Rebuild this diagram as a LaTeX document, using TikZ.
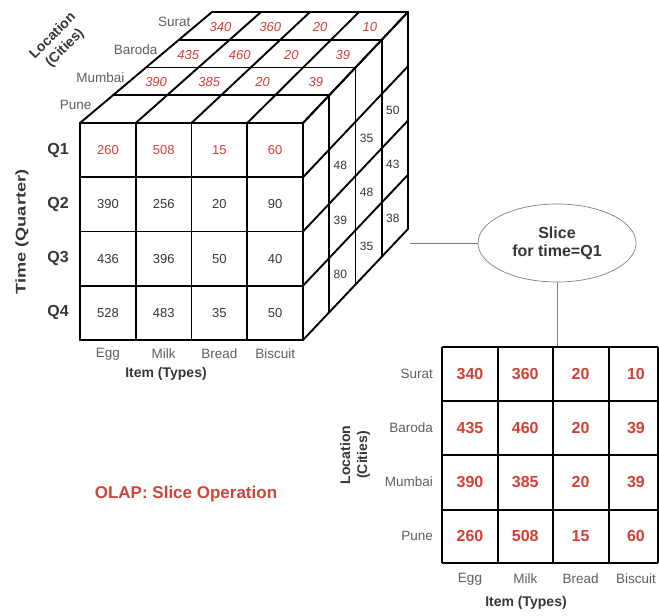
\documentclass[tikz,border=0pt]{standalone}
\usepackage{fontspec}
\setmainfont{Liberation Sans}
\usetikzlibrary{shapes.geometric}
\definecolor{valred}{RGB}{214,62,52}
\definecolor{titlered}{RGB}{206,70,55}
\definecolor{lblgray}{RGB}{95,95,95}
\definecolor{numgray}{RGB}{55,55,55}
\tikzset{
  cube/.style={line width=1.9pt, line cap=round, line join=round},
  slicegrid/.style={line width=2.2pt, line join=miter},
  conn/.style={draw=gray, line width=0.7pt},
  frontval/.style={font=\fontsize{13}{13}\selectfont, text=numgray, inner sep=0pt},
  frontred/.style={font=\fontsize{13}{13}\selectfont, text=valred, inner sep=0pt},
  topval/.style={font=\fontsize{13}{13}\selectfont\itshape, text=valred, inner sep=0pt},
  sideval/.style={font=\fontsize{12}{12}\selectfont, text=numgray, inner sep=0pt},
  qlbl/.style={font=\fontsize{16}{16}\selectfont\bfseries, text=numgray, inner sep=0pt},
  catlbl/.style={font=\fontsize{13.5}{13.5}\selectfont, text=lblgray, inner sep=0pt},
  axlbl/.style={font=\fontsize{14}{17}\selectfont\bfseries, text=numgray, inner sep=0pt, align=center},
  sliceval/.style={font=\fontsize{16}{16}\selectfont\bfseries, text=valred, inner sep=0pt},
}
\begin{document}
\begin{tikzpicture}[x=1pt,y=-1pt]
\useasboundingbox (0,0) rectangle (659,616);
\fill[white] (0,0) rectangle (659,616);

% ---------- cube ----------
% depth planes
\foreach \k in {0,...,4} {
  \pgfmathsetmacro\L{80+33*\k}
  \pgfmathsetmacro\R{303+26.25*\k}
  \pgfmathsetmacro\T{123-27.75*\k}
  \pgfmathsetmacro\B{\T+217}
  \draw[cube] (\L,\T) -- (\R,\T) -- (\R,\B);
}
% top-face column edges
\foreach \i in {0,...,4} {
  \draw[cube] ({80+\i*55.75},123) -- ({212+\i*49},12);
}
% right-face row edges
\foreach \j in {0,...,4} {
  \draw[cube] (303,{123+\j*54.25}) -- (408,{12+\j*54.25});
}
% front face grid
\foreach \i in {0,...,4} {
  \draw[cube] ({80+\i*55.75},123) -- ({80+\i*55.75},340);
}
\foreach \j in {0,...,4} {
  \draw[cube] (80,{123+\j*54.25}) -- (303,{123+\j*54.25});
}

% front values
\foreach \v [count=\c from 0] in {260,508,15,60} {
  \node[frontred] (f-0-\c) at ({107.9+\c*55.75},150.1) {\v};
}
\foreach \row [count=\r from 1] in {{390,256,20,90},{436,396,50,40},{528,483,35,50}} {
  \foreach \v [count=\c from 0] in \row {
    \node[frontval] (f-\r-\c) at ({107.9+\c*55.75},{150.1+\r*54.25}) {\v};
  }
}

% top values (Surat kk=3.5, Baroda 2.5, Mumbai 1.5)
\foreach \kk/\row in {3.5/{340,360,20,10},2.5/{435,460,20,39},1.5/{390,385,20,39}} {
  \foreach \v [count=\c from 0] in \row {
    \pgfmathsetmacro\L{80+33*\kk}
    \pgfmathsetmacro\W{223-6.75*\kk}
    \pgfmathsetmacro\T{123-27.75*\kk}
    \node[topval] (t-\kk-\c) at ({\L+(\c+0.5)*\W/4},{\T+1}) {\v};
  }
}

% side values
\foreach \kk/\row in {1.5/{48,39,80},2.5/{35,48,35},3.5/{50,43,38}} {
  \foreach \v [count=\r from 1] in \row {
    \pgfmathsetmacro\R{303+26.25*\kk}
    \pgfmathsetmacro\T{123-27.75*\kk}
    \node[sideval] (s-\kk-\r) at ({\R-2},{\T+(\r+0.5)*54.25+3}) {\v};
  }
}

% city labels on top
\foreach \kk/\name in {3.5/Surat,2.5/Baroda,1.5/Mumbai,0.5/Pune} {
  \pgfmathsetmacro\L{80+33*\kk}
  \pgfmathsetmacro\T{123-27.75*\kk}
  \node[catlbl, anchor=east] (c-\name) at ({\L-5},{\T-4}) {\name};
}

% quarter labels
\foreach \q [count=\r from 0] in {Q1,Q2,Q3,Q4} {
  \node[qlbl] (q-\q) at (58,{150.1+\r*54.25}) {\q};
}
\node[axlbl, rotate=90] (timelbl) at (22,232) {\scalebox{1.3}[1]{Time (Quarter)}};
\node[axlbl, rotate=45] (loclbl) at (59,42) {Location\\(Cities)};

% item labels under cube
\foreach \n [count=\c from 0] in {Egg,Milk,Bread,Biscuit} {
  \node[catlbl] (i-\n) at ({107.9+\c*55.75},354) {\n};
}
\node[axlbl] (itemlbl) at (166,374) {Item (Types)};

% ---------- connector and ellipse ----------
\coordinate (cubeR) at (410,243);
\node[ellipse, draw=gray, line width=0.7pt, minimum width=158, minimum height=78,
      font=\fontsize{16}{18}\selectfont\bfseries, text=numgray, align=center, inner sep=0pt]
      (slice) at (557,243) {Slice\\for time=Q1};
\coordinate (gridtop) at (557,347);
\draw[conn] (cubeR) -- (slice.west);
\draw[conn] (slice.south) -- (gridtop);

% ---------- slice grid ----------
\foreach \x in {442,498,553,609,658} {
  \draw[slicegrid] (\x,347) -- (\x,563);
}
\foreach \y in {347,401,455,510,563} {
  \draw[slicegrid] (442,\y) -- (658,\y);
}
\foreach \name/\row [count=\r from 0] in {Surat/{340,360,20,10},Baroda/{435,460,20,39},Mumbai/{390,385,20,39},Pune/{260,508,15,60}} {
  \node[catlbl, anchor=east] (sl-\name) at (433,{374+\r*54}) {\name};
  \foreach \v [count=\c from 0] in \row {
    \node[sliceval] (sv-\r-\c) at ({470+\c*55.3},{374+\r*54}) {\v};
  }
}
\foreach \n [count=\c from 0] in {Egg,Milk,Bread,Biscuit} {
  \node[catlbl] (si-\n) at ({470+\c*55.3},579) {\n};
}
\node[axlbl] (sitemlbl) at (526,603) {Item (Types)};
\node[axlbl, rotate=90] (slocl) at (355,455) {Location\\(Cities)};

% ---------- title ----------
\node[font=\fontsize{17}{17}\selectfont\bfseries, text=titlered, inner sep=0pt] (title) at (186,494) {OLAP: Slice Operation};
\end{tikzpicture}
\end{document}
